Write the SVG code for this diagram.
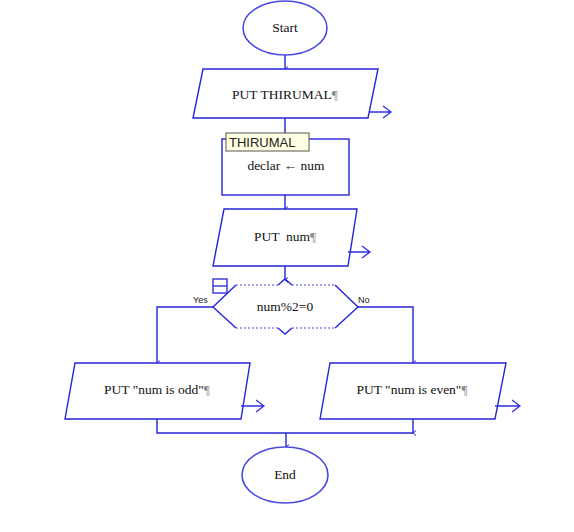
<svg xmlns="http://www.w3.org/2000/svg" width="574" height="532" viewBox="0 0 574 532">
<defs>
<marker id="tip" viewBox="0 0 6 6" refX="3" refY="5" markerWidth="6" markerHeight="6" markerUnits="userSpaceOnUse" orient="auto-start-reverse">
<path d="M0.5,2 L3,5 L5.5,2" fill="none" stroke="#2424d8" stroke-width="1"/>
</marker>
</defs>
<style>
.s{fill:#fff;stroke:#2424d8;stroke-width:1.4}
.e{fill:#fff;stroke:#4a4ae0;stroke-width:1.6}
.c{fill:none;stroke:#2424d8;stroke-width:1.4}
.o{fill:none;stroke:#3030e0;stroke-width:1.3}
.t{font-family:"Liberation Serif","Times New Roman",serif;font-size:13.5px;fill:#111;text-anchor:middle;white-space:pre}
.p{fill:#888}
.l{font-family:"Liberation Sans",Arial,sans-serif;font-size:9px;fill:#222}
</style>
<rect width="574" height="532" fill="#fff"/>
<g id="connectors">
<path class="c" d="M285,55 V69" marker-end="url(#tip)"/>
<path class="c" d="M285,118 V139" marker-end="url(#tip)"/>
<path class="c" d="M285,195 V209" marker-end="url(#tip)"/>
<path class="c" d="M285,266 V280" marker-end="url(#tip)"/>
<path class="c" d="M213,307 H157 V363" marker-end="url(#tip)"/>
<path class="c" d="M358,307 H413 V363" marker-end="url(#tip)"/>
<path class="c" d="M157,419 V433 H413"/>
<path class="c" d="M413,419 V433" marker-end="url(#tip)"/>
<path class="c" d="M286,433 V447" marker-end="url(#tip)"/>
</g>
<g id="start">
<ellipse class="e" cx="285" cy="28" rx="42" ry="27"/>
<text class="t" x="285" y="32" font-size="12.5">Start</text>
</g>
<g id="put-thirumal">
<polygon class="s" points="203,69 378,69 368,118 193,118"/>
<text class="t" x="285" y="99">PUT THIRUMAL<tspan class="p">¶</tspan></text>
<path class="o" d="M370,112 H391 M383,106 L391,112 L383,118"/>
</g>
<g id="declar">
<rect class="s" x="222" y="139" width="127" height="56"/>
<text class="t" x="286" y="170">declar ← num</text>
<rect x="226" y="133" width="83" height="18" fill="#ffffe1" stroke="#555" stroke-width="1"/>
<text x="229" y="147" font-family="'Liberation Sans',Arial,sans-serif" font-size="13" fill="#222">THIRUMAL</text>
</g>
<g id="put-num">
<polygon class="s" points="224,209 357,209 348,266 213,266"/>
<text class="t" x="285" y="241" xml:space="preserve">PUT  num<tspan class="p">¶</tspan></text>
<path class="o" d="M348,252 H370 M362,246 L370,252 L362,258"/>
</g>
<g id="decision">
<path d="M236,285 H335 L358,307 L335,328 H236 L213,307 Z" fill="#fff" stroke="none"/>
<path class="c" d="M236,285 L213,307 L236,328 M335,285 L358,307 L335,328"/>
<path d="M236,285 H278 M292,285 H335 M236,328 H278 M292,328 H335" fill="none" stroke="#4a4ae0" stroke-width="1" stroke-dasharray="2,2"/>
<path class="c" d="M278,285 L285,279 L292,285 M278,328 L285,334 L292,328" stroke-width="1.2"/>
<text class="t" x="285" y="311">num%2=0</text>
<rect x="213" y="279" width="14" height="14" fill="none" stroke="#2424d8" stroke-width="1.3"/>
<path d="M213,286 H227" stroke="#2424d8" stroke-width="1.3"/>
<text class="l" x="193" y="303">Yes</text>
<text class="l" x="358" y="303">No</text>
</g>
<g id="put-odd">
<polygon class="s" points="75,363 250,363 241,419 65,419"/>
<text class="t" x="157" y="394">PUT "num is odd"<tspan class="p">¶</tspan></text>
<path class="o" d="M241,406 H264 M256,400 L264,406 L256,412"/>
</g>
<g id="put-even">
<polygon class="s" points="330,363 506,363 495,419 320,419"/>
<text class="t" x="412" y="394">PUT "num is even"<tspan class="p">¶</tspan></text>
<path class="o" d="M495,406 H520 M512,400 L520,406 L512,412"/>
</g>
<g id="end">
<ellipse class="e" cx="285" cy="475" rx="43" ry="28"/>
<text class="t" x="285" y="479">End</text>
</g>
</svg>
